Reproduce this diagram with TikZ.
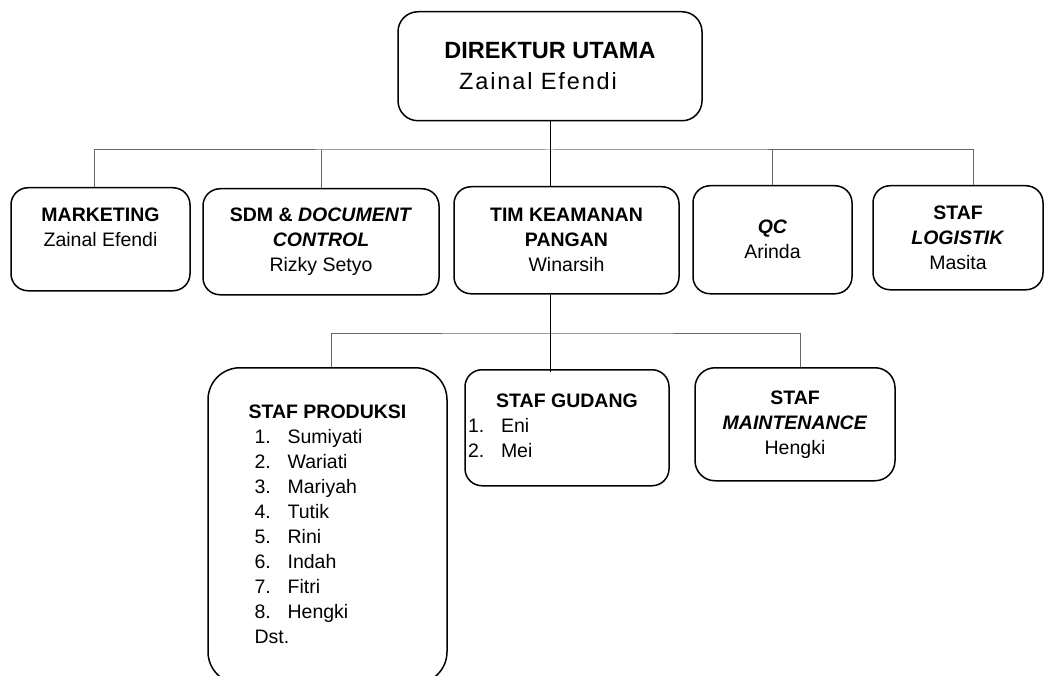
\documentclass[tikz,border=0pt]{standalone}
\usepackage{fontspec}
\setmainfont{Liberation Sans}
\newfontfamily\widefont[LetterSpace=8]{Liberation Sans}
\usetikzlibrary{positioning}
\newcommand{\listentry}[2]{\makebox[33pt][l]{#1}#2}

\begin{document}
\begin{tikzpicture}[x=1pt,y=-1pt,
    box/.style={draw,line width=1.5pt,rounded corners=17pt,align=center,inner sep=0pt,anchor=north,
      font=\fontsize{19.5}{25}\selectfont},
    link/.style={draw=black!60,line width=1pt},
    spine/.style={draw=black,line width=1pt}]
  \useasboundingbox (0,0) rectangle (1046,676);

  \node[box,minimum width=304pt,minimum height=109pt,rounded corners=20pt,font=\fontsize{23.5}{31}\selectfont]
    (direktur) at (550,11) {\textbf{DIREKTUR UTAMA}\\{\widefont Zainal Efendi}\hspace*{24pt}};

  \node[box,minimum width=179pt,minimum height=103pt] (marketing) at (100.5,187)
    {\textbf{MARKETING}\\Zainal Efendi\\\mbox{}};
  \node[box,minimum width=236pt,minimum height=106pt] (sdm) at (321,188)
    {\textbf{SDM \& \textit{DOCUMENT}}\\\textbf{\textit{CONTROL}}\\Rizky Setyo};
  \node[box,minimum width=225pt,minimum height=107pt] (keamanan) at (566.5,186)
    {\textbf{TIM KEAMANAN}\\\textbf{PANGAN}\\Winarsih};
  \node[box,minimum width=159pt,minimum height=108pt] (qc) at (772.5,185)
    {\textbf{\textit{QC}}\\Arinda};
  \node[box,minimum width=170pt,minimum height=104pt] (logistik) at (958,185)
    {\textbf{STAF}\\\textbf{\textit{LOGISTIK}}\\Masita};

  \node[box,minimum width=239pt,minimum height=316pt,rounded corners=32pt] (produksi) at (327.5,367)
    {\begin{tabular}{@{}l@{}}
      \textbf{STAF PRODUKSI}\\
      \hspace{6pt}\listentry{1.}{Sumiyati}\\
      \hspace{6pt}\listentry{2.}{Wariati}\\
      \hspace{6pt}\listentry{3.}{Mariyah}\\
      \hspace{6pt}\listentry{4.}{Tutik}\\
      \hspace{6pt}\listentry{5.}{Rini}\\
      \hspace{6pt}\listentry{6.}{Indah}\\
      \hspace{6pt}\listentry{7.}{Fitri}\\
      \hspace{6pt}\listentry{8.}{Hengki}\\
      \hspace{6pt}Dst.
    \end{tabular}};
  \node[box,minimum width=204pt,minimum height=116pt] (gudang) at (567,369)
    {\begin{tabular}{@{}l@{}}
      \makebox[198pt]{\textbf{STAF GUDANG}}\\
      \listentry{1.}{Eni}\\
      \listentry{2.}{Mei}
    \end{tabular}};
  \node[box,minimum width=200pt,minimum height=113pt,rounded corners=20pt] (maintenance) at (795,367)
    {\textbf{STAF}\\\textbf{\textit{MAINTENANCE}}\\Hengki};

  \coordinate (bus) at (550,150);
  \coordinate (subbus) at (550,333);

  \draw[link] ([xshift=-6.5pt]marketing.north) |- (bus) -| ([xshift=15pt]logistik.north);
  \draw[link] (sdm.north) -- (sdm.north |- bus);
  \draw[link] (qc.north) -- (qc.north |- bus);
  \draw[link] ([xshift=3.5pt]produksi.north) |- (subbus) -| ([xshift=5pt]maintenance.north);
  \draw[spine] (direktur.south) -- (direktur.south |- keamanan.north);
  \draw[spine] (direktur.south |- keamanan.south) -- ([yshift=-3pt]direktur.south |- gudang.north);
\end{tikzpicture}
\end{document}
